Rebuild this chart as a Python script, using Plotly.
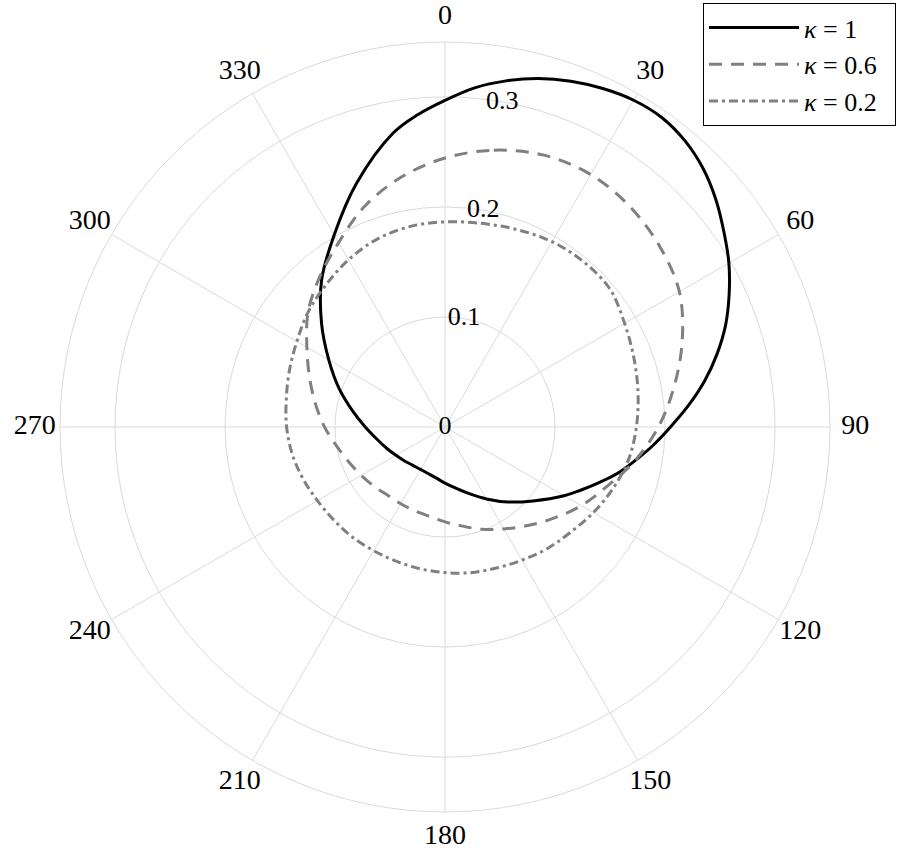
import plotly.graph_objects as go

# ==========================
# DATA (theta in degrees clockwise from top)
# ==========================
theta_k1 = [0, 5, 10, 15, 20, 25, 30, 35, 40, 45, 50, 55, 60, 65, 70, 75, 80, 85, 90,
            95, 100, 105, 110, 115, 120, 130, 140, 150, 160, 170, 180, 190, 200, 210,
            220, 230, 240, 250, 260, 270, 280, 290, 300, 310, 320, 330, 340, 350, 355, 360]
r_k1 = [0.297, 0.3095, 0.3195, 0.328, 0.3345, 0.3395, 0.343, 0.3435, 0.3395, 0.332,
        0.3215, 0.3095, 0.298, 0.285, 0.2715, 0.256, 0.2395, 0.222, 0.205, 0.19, 0.1755,
        0.1625, 0.1485, 0.136, 0.125, 0.1045, 0.089, 0.0755, 0.0645, 0.0565, 0.051, 0.047,
        0.045, 0.0445, 0.0455, 0.048, 0.0515, 0.0565, 0.063, 0.0725, 0.0855, 0.1025, 0.122,
        0.1465, 0.1745, 0.2015, 0.2355, 0.2714, 0.285, 0.297]

theta_k06 = list(range(0, 361, 10))
r_k06 = [0.2445, 0.2555, 0.263, 0.265, 0.2615, 0.255, 0.246, 0.2295, 0.2115, 0.194,
         0.1755, 0.157, 0.143, 0.129, 0.117, 0.107, 0.099, 0.0915, 0.0862, 0.0825, 0.081,
         0.0805, 0.081, 0.084, 0.088, 0.093, 0.1, 0.1095, 0.1195, 0.131, 0.145, 0.1625,
         0.1775, 0.1935, 0.2135, 0.2305, 0.2445]

theta_k02 = list(range(0, 361, 10))
r_k02 = [0.1865, 0.188, 0.191, 0.1945, 0.196, 0.1955, 0.1885, 0.1828, 0.1782, 0.174,
         0.1695, 0.1627, 0.1557, 0.1489, 0.1444, 0.1398, 0.1364, 0.1345, 0.1323, 0.1309,
         0.1298, 0.1298, 0.1308, 0.1318, 0.1339, 0.1374, 0.1411, 0.144, 0.1465, 0.1505,
         0.1555, 0.1625, 0.1685, 0.1755, 0.1815, 0.185, 0.1865]

labels = ["<i>κ</i> = 1", "<i>κ</i> = 0.6", "<i>κ</i> = 0.2"]
radial_ticks = [0, 0.1, 0.2, 0.3]
rim = 0.35                 # outer circle of the grid
radial_label_theta = 10
angular_ticks = list(range(0, 360, 30))
angular_label_r = 0.373    # labels sit just outside the rim

FONT = "Liberation Serif"
GRID = "#dadada"

# ==========================
# CHART
# ==========================
fig = go.Figure()

# spokes every 30 deg, ending at the rim
spoke_r, spoke_t = [], []
for a in angular_ticks:
    spoke_r += [0, rim, None]
    spoke_t += [a, a, None]
fig.add_trace(go.Scatterpolar(
    r=spoke_r, theta=spoke_t, mode="lines",
    line=dict(color=GRID, width=1),
    showlegend=False, hoverinfo="skip",
))

styles = [
    dict(color="black", width=3, dash="solid"),
    dict(color="#808080", width=3, dash="13px,9px"),
    dict(color="#808080", width=3, dash="9px,4px,3px,4px"),
]

for th, rr, name, st in zip([theta_k1, theta_k06, theta_k02], [r_k1, r_k06, r_k02], labels, styles):
    fig.add_trace(go.Scatterpolar(
        r=rr,
        theta=th,
        mode="lines",
        name=name + "\u2002",
        line=dict(shape="spline", smoothing=1, **st),
        hoverinfo="skip",
    ))

# radial tick labels sit on a line slightly clockwise of 0 deg
fig.add_trace(go.Scatterpolar(
    r=radial_ticks,
    theta=[0 if v == 0 else radial_label_theta for v in radial_ticks],
    mode="text",
    text=[("%g" % v) for v in radial_ticks],
    textposition="middle center",
    textfont=dict(family=FONT, size=26, color="black"),
    showlegend=False,
    hoverinfo="skip",
))

# angular tick labels, centred on their spokes
fig.add_trace(go.Scatterpolar(
    r=[angular_label_r] * len(angular_ticks),
    theta=angular_ticks,
    mode="text",
    text=[str(v) for v in angular_ticks],
    textposition="middle center",
    textfont=dict(family=FONT, size=28, color="black"),
    cliponaxis=False,
    showlegend=False,
    hoverinfo="skip",
))

W, H = 905, 853
cx, cy = 445, 427
R_MAX = 0.38
R = R_MAX * 1100           # px per unit

fig.update_layout(
    width=W,
    height=H,
    margin=dict(l=0, r=0, t=0, b=0),
    paper_bgcolor="white",
    font=dict(family=FONT, size=26, color="black"),
    polar=dict(
        domain=dict(
            x=[(cx - R) / W, (cx + R) / W],
            y=[(H - cy - R) / H, (H - cy + R) / H],
        ),
        bgcolor="white",
        angularaxis=dict(
            rotation=90,
            direction="clockwise",
            showticklabels=False,
            ticks="",
            showline=False,
            showgrid=False,
        ),
        radialaxis=dict(
            range=[0, R_MAX],
            tickmode="array",
            tickvals=radial_ticks[1:] + [rim],
            showticklabels=False,
            ticks="",
            showline=False,
            gridcolor=GRID,
        ),
    ),
    legend=dict(
        x=703 / W,
        y=1 - 3 / H,
        xanchor="left",
        yanchor="top",
        bgcolor="white",
        bordercolor="black",
        borderwidth=1,
        itemwidth=90,
        font=dict(family=FONT, size=26),
        tracegroupgap=0,
    ),
    showlegend=True,
)

# drop the page's default 8px body margin so the figure fills the window
fig.write_html(
    "out.html",
    config={"displayModeBar": False},
    post_script="document.body.style.margin='0';document.body.style.overflow='hidden';",
)
